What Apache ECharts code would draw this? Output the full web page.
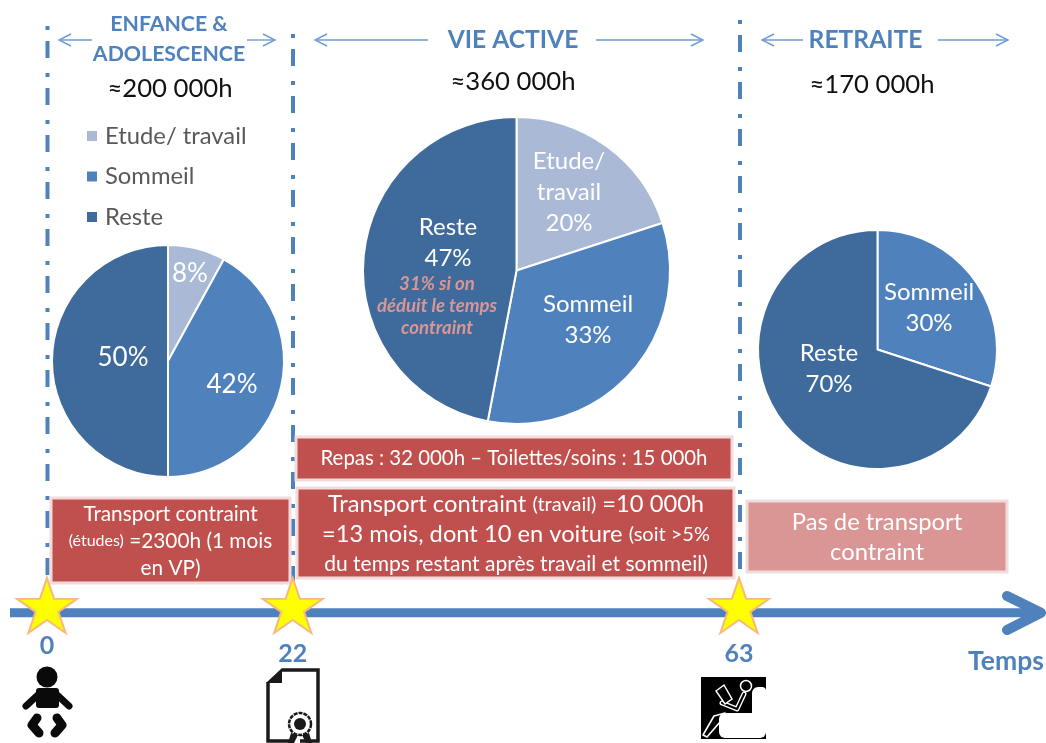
<!DOCTYPE html>
<html><head><meta charset="utf-8">
<style>html,body{margin:0;padding:0;background:#fff}#c{width:1046px;height:743px}</style>
<script src="https://cdn.jsdelivr.net/npm/echarts@6/dist/echarts.min.js"></script>
</head><body><div id="c"></div>
<script>
const categories = ['Etude/ travail', 'Sommeil', 'Reste'];
const enfance = [8, 42, 50];
const vieActive = [20, 33, 47];
const retraite = [0, 30, 70];
const ages = [0, 22, 63];
const periodTitles = ['ENFANCE &\nADOLESCENCE', 'VIE ACTIVE', 'RETRAITE'];
const periodTotals = ['≈200 000h', '≈360 000h', '≈170 000h'];

const BLUE = '#4F81BD', LIGHT = '#AAB9D6', DARK = '#3F6A9C', RED = '#C0504D', SOFT = '#D99694', EDGE = '#F2DCDB', THIN = '#6F9BD1';
const colors = [LIGHT, BLUE, DARK];
const FONT = 'Lato';
const STAR = 'path://M50,0 L61.8,36 L100,36 L69,58.5 L80.9,95 L50,72.5 L19.1,95 L31,58.5 L0,36 L38.2,36 Z';
const chart = echarts.init(document.getElementById('c'), null, {renderer: 'canvas'});

function pieSeries(values, center, radius, labelPos, withName, size) {
  const data = values.map((v, i) => ({value: v, name: categories[i], itemStyle: {color: colors[i]}}))
    .filter(d => d.value > 0);
  return {
    type: 'pie', center, radius, startAngle: 90, clockwise: true, animation: false, silent: true,
    itemStyle: {borderColor: '#fff', borderWidth: 2},
    label: {
      show: true, position: 'inside', color: '#fff', fontFamily: FONT, fontSize: size, lineHeight: 31,
      formatter: p => withName ? p.name.replace('/ ', '/\n') + '\n' + p.value + '%' : p.value + '%'
    },
    labelLine: {show: false},
    labelLayout: p => {
      const k = categories.indexOf(p.text.startsWith('Etude') ? categories[0] : p.text.startsWith('Sommeil') ? categories[1] : categories[2]);
      const idx = withName ? k : p.dataIndex;
      return {x: labelPos[idx][0], y: labelPos[idx][1], align: 'center', verticalAlign: 'middle'};
    },
    data
  };
}

function txt(text, x, y, size, color, extra) {
  return {type: 'text', z: 20, style: Object.assign({text, x, y, align: 'center', verticalAlign: 'middle',
    fill: color, fontFamily: FONT, fontSize: size}, extra || {})};
}
function box(x, y, w, h, fill) {
  return {type: 'rect', z: 5, shape: {x, y, width: w, height: h}, style: {fill, stroke: EDGE, lineWidth: 3}};
}
function vline(x, y1, y2) {
  return {type: 'line', z: 1, shape: {x1: x, y1, x2: x, y2},
    style: {stroke: BLUE, lineWidth: 4, lineDash: [4, 11, 17, 15]}};
}
function arrow(x1, x2, y) {
  const d = x2 > x1 ? -1 : 1;
  return [
    {type: 'line', z: 5, shape: {x1, y1: y, x2, y2: y}, style: {stroke: THIN, lineWidth: 1.4}},
    {type: 'polyline', z: 5, shape: {points: [[x2 + d * 12, y - 6], [x2, y], [x2 + d * 12, y + 6]]},
      style: {stroke: THIN, lineWidth: 1.4, fill: null}}
  ];
}
const black = {fill: '#0a0a0a'};
function strokeLine(points, w, color) {
  return {type: 'polyline', z: 6, shape: {points},
    style: {stroke: color || '#0a0a0a', lineWidth: w, fill: null, lineCap: 'round', lineJoin: 'round'}};
}

const titleLines = periodTitles[0].split('\n');
const graphic = [
  vline(47.5, 26, 578), vline(293, 34, 582), vline(740, 20, 580),
  ...arrow(92, 59, 40), ...arrow(247, 275, 40),
  ...arrow(428, 315, 40), ...arrow(596, 703, 40),
  ...arrow(803, 762, 40), ...arrow(938, 1008, 40),
  txt(titleLines[0], 169, 24.5, 21.3, BLUE, {fontWeight: 'bold'}),
  txt(titleLines[1], 169, 54, 21.3, BLUE, {fontWeight: 'bold'}),
  txt(periodTitles[1], 513, 40, 24.6, BLUE, {fontWeight: 'bold'}),
  txt(periodTitles[2], 865.5, 40, 24.6, BLUE, {fontWeight: 'bold'}),
  txt(periodTotals[0], 170, 89, 25.7, '#111'),
  txt(periodTotals[1], 513, 82, 25.7, '#111'),
  txt(periodTotals[2], 872, 85, 25.7, '#111'),
  txt('31% si on\ndéduit le temps\ncontraint', 437, 306, 18.6, SOFT, {fontWeight: 'bold', fontStyle: 'italic', lineHeight: 22}),

  box(51, 498, 239, 85, RED),
  {type: 'text', z: 20, style: {x: 170.5, y: 541, align: 'center', verticalAlign: 'middle', fill: '#fff',
    fontFamily: FONT, fontSize: 20.8, lineHeight: 27,
    text: 'Transport contraint\n{s|(études)} =2300h (1 mois\nen VP)',
    rich: {s: {fontSize: 16, fontFamily: FONT, fill: '#fff', lineHeight: 27}}}},
  box(296, 437, 436, 43, RED),
  txt('Repas : 32 000h – Toilettes/soins : 15 000h', 514, 458, 20.4, '#fff'),
  box(297, 488, 437, 90, RED),
  {type: 'text', z: 20, style: {x: 516, y: 534.5, align: 'center', verticalAlign: 'middle', fill: '#fff',
    fontFamily: FONT, fontSize: 23.7, lineHeight: 30,
    text: 'Transport contraint {s|(travail)} =10 000h\n=13 mois, dont 10 en voiture {s|(soit >5%}\n{m|du temps restant après travail et sommeil)}',
    rich: {s: {fontSize: 20, fontFamily: FONT, fill: '#fff', lineHeight: 30},
           m: {fontSize: 21, fontFamily: FONT, fill: '#fff', lineHeight: 30}}}},
  box(747, 501, 260, 71, SOFT),
  txt('Pas de transport\ncontraint', 877, 537, 23.8, '#fff', {lineHeight: 30}),

  // time arrow
  {type: 'line', z: 2, shape: {x1: 10, y1: 612.7, x2: 1040, y2: 612.7}, style: {stroke: BLUE, lineWidth: 9}},
  strokeLine([[1007, 596], [1041, 612.7], [1007, 630]], 10, BLUE),
  txt('Temps', 1006, 661, 26.5, BLUE, {fontWeight: 'bold'}),

  // baby
  {type: 'circle', z: 6, shape: {cx: 47, cy: 677, r: 10.5}, style: black},
  {type: 'rect', z: 6, shape: {x: 36, y: 688, width: 23, height: 20, r: 3}, style: black},
  strokeLine([[26, 706], [40, 693]], 7),
  strokeLine([[69, 706], [55, 693]], 7),
  strokeLine([[37, 718], [32, 725], [39, 733]], 9),
  strokeLine([[57, 718], [62, 725], [55, 733]], 9),

  // certificate
  {type: 'polyline', z: 6, shape: {points: [[282, 670], [318, 670], [318, 741], [300, 741]]},
    style: {stroke: '#1a1a1a', lineWidth: 3.5, fill: null}},
  {type: 'polyline', z: 6, shape: {points: [[268, 682], [268, 741], [290, 741]]},
    style: {stroke: '#1a1a1a', lineWidth: 3.5, fill: null}},
  {type: 'polygon', z: 6, shape: {points: [[266, 683], [282, 668], [282, 683]]}, style: {fill: '#1a1a1a'}},
  {type: 'circle', z: 7, shape: {cx: 300, cy: 724, r: 11}, style: {fill: '#fff', stroke: '#1a1a1a', lineWidth: 2.5, lineDash: [4, 1]}},
  {type: 'circle', z: 7, shape: {cx: 300, cy: 724, r: 6}, style: {fill: '#1a1a1a'}},
  {type: 'polygon', z: 6, shape: {points: [[291, 733], [298, 735], [294, 743], [288, 743]]}, style: {fill: '#1a1a1a'}},
  {type: 'polygon', z: 6, shape: {points: [[309, 733], [302, 735], [306, 743], [312, 743]]}, style: {fill: '#1a1a1a'}},

  // reader in armchair
  {type: 'rect', z: 6, shape: {x: 701, y: 677, width: 65, height: 62}, style: {fill: '#000'}},
  {type: 'rect', z: 7, shape: {x: 752, y: 687, width: 14, height: 34, r: [6, 4, 0, 0]}, style: {fill: '#fff'}},
  {type: 'rect', z: 7, shape: {x: 719, y: 713, width: 47, height: 25, r: 6}, style: {fill: '#fff'}},
  {type: 'circle', z: 8, shape: {cx: 746, cy: 686, r: 5.5}, style: {fill: '#000', stroke: '#fff', lineWidth: 1.5}},
  strokeLine([[744, 694], [737, 709], [722, 703]], 5, '#fff'),
  strokeLine([[744, 694], [737, 709], [722, 703]], 2.2, '#000'),
  {type: 'polygon', z: 8, shape: {points: [[716, 691], [724, 685], [732, 699], [725, 704]]}, style: {fill: '#000', stroke: '#fff', lineWidth: 1.5}},
  strokeLine([[725, 713], [714, 716], [703, 735], [707, 737], [720, 722]], 1.6, '#fff')
];

const split = ages[1];
const stars = (list, idx) => ({
  type: 'scatter', xAxisIndex: idx, yAxisIndex: idx, clip: false, silent: true, animation: false, z: 10,
  symbol: STAR, symbolSize: [60, 55], symbolKeepAspect: false,
  itemStyle: {color: '#FFFF00', borderColor: '#F9B97C', borderWidth: 2, opacity: 1},
  label: {show: true, position: 'bottom', distance: 7, color: BLUE, fontFamily: FONT, fontWeight: 'bold', fontSize: 25,
    formatter: p => String(p.value[0])},
  labelLayout: p => p.text === String(ages[0]) ? {dy: -8} : {},
  data: list.map(a => [a, 0])
});

chart.setOption({
  backgroundColor: '#fff',
  animation: false,
  legend: {
    show: true, orient: 'vertical', left: 80, top: 119, itemWidth: 12, itemHeight: 12, itemGap: 16.5, icon: 'rect',
    selectedMode: false, data: categories,
    textStyle: {fontFamily: FONT, fontSize: 23.8, color: '#595959', padding: [0, 0, 0, 2]}
  },
  grid: [
    {left: 47, width: 245.7, top: 605, height: 1},
    {left: 292.7, width: 446.3, top: 605, height: 1}
  ],
  xAxis: [
    {type: 'value', gridIndex: 0, min: ages[0], max: split, show: false},
    {type: 'value', gridIndex: 1, min: split, max: ages[2], show: false}
  ],
  yAxis: [
    {type: 'value', gridIndex: 0, min: -1, max: 1, show: false},
    {type: 'value', gridIndex: 1, min: -1, max: 1, show: false}
  ],
  series: [
    pieSeries(enfance, [168, 361], 116, [[190, 274], [232, 385], [123, 358]], false, 26),
    pieSeries(vieActive, [516.5, 270.5], 153.5, [[569, 192], [588, 320], [448, 243]], true, 24),
    pieSeries(retraite, [877.5, 349.5], 119.5, [[0, 0], [929, 308], [829, 369]], true, 24),
    stars(ages.filter(a => a <= split), 0),
    stars(ages.filter(a => a > split), 1)
  ],
  graphic
});
</script></body></html>
